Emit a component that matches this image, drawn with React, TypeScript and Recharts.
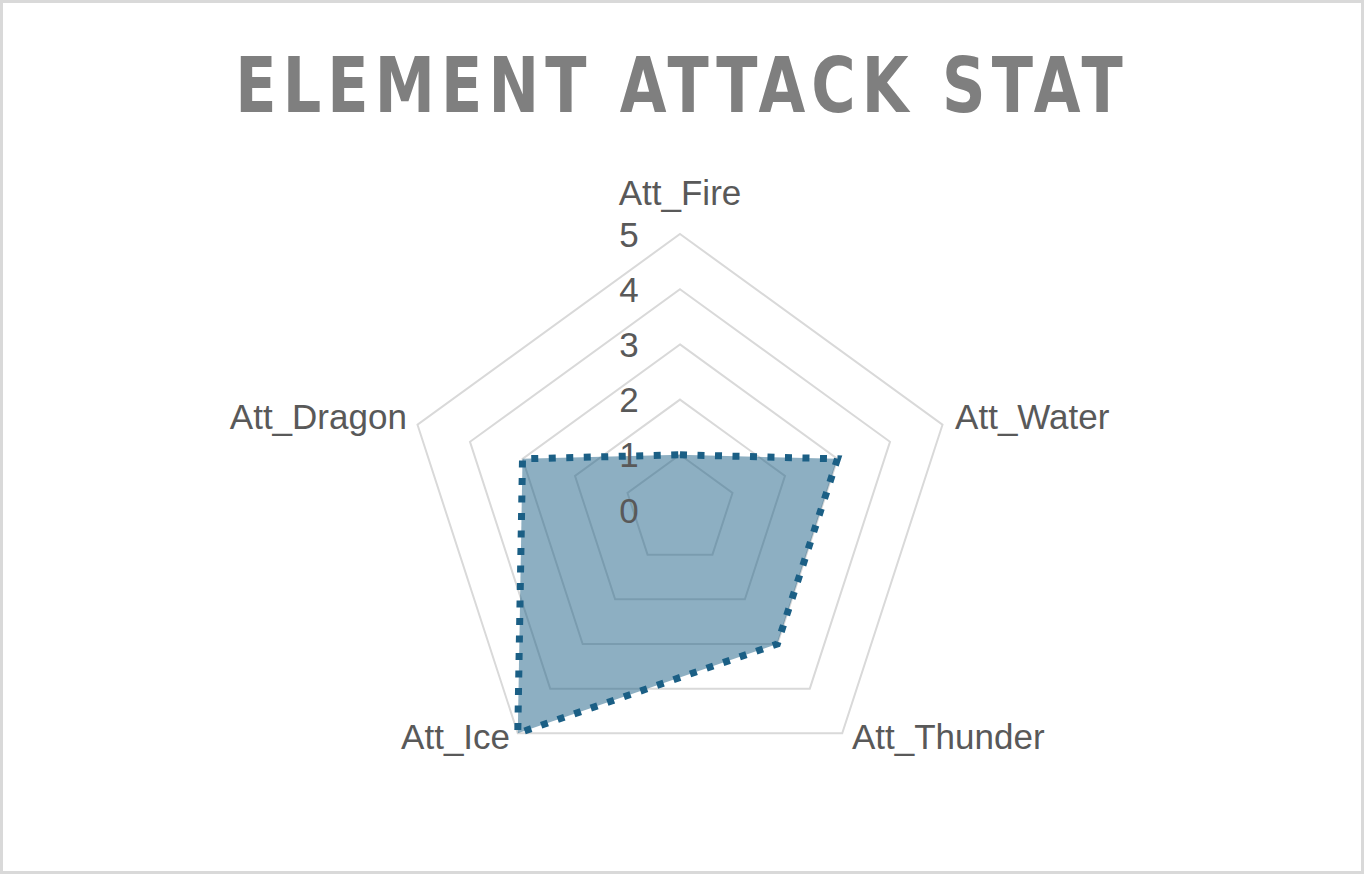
import React from 'react';
import { RadarChart, Radar, PolarGrid, PolarAngleAxis, PolarRadiusAxis } from 'recharts';

const categories = ['Att_Fire', 'Att_Water', 'Att_Thunder', 'Att_Ice', 'Att_Dragon'];
const attackValues = [1, 3, 3, 5, 3];
const radiusTicks = [0, 1, 2, 3, 4, 5];
const chartTitle = 'ELEMENT ATTACK STAT';

const data = categories.map((c, i) => ({ name: c, value: attackValues[i] }));

const LABEL_FONT = '"Liberation Sans", Arial, sans-serif';
const SERIES_COLOR = '#1b5f85';

const AngleTick = (props: any) => {
  const { x, y, payload, textAnchor } = props;
  let dx = 0;
  let dy = 0;
  if (textAnchor === 'middle') {
    dy = -21;
  } else if (textAnchor === 'start') {
    dx = 5;
    dy = y > 510 ? 9 : 7;
  } else {
    dx = -3;
    dy = y > 510 ? 9 : 7;
  }
  return (
    <text
      x={x + dx}
      y={y + dy}
      textAnchor={textAnchor}
      fill="#595959"
      fontSize={35}
      fontFamily={LABEL_FONT}
    >
      {payload.value}
    </text>
  );
};

const RadiusTick = (props: any) => {
  const { x, y, payload } = props;
  return (
    <text
      x={x - 51}
      y={y}
      textAnchor="middle"
      dominantBaseline="central"
      fill="#595959"
      fontSize={35}
      fontFamily={LABEL_FONT}
    >
      {payload.value}
    </text>
  );
};

export default function App() {
  return (
    <div
      style={{
        position: 'absolute',
        left: 0,
        top: 0,
        width: 1364,
        height: 874,
        boxSizing: 'border-box',
        border: '3px solid #d9d9d9',
        background: '#fff',
      }}
    >
      <svg
        width={1364}
        height={140}
        style={{ position: 'absolute', left: -3, top: -3 }}
      >
        <text
          x={682}
          y={112}
          textAnchor="middle"
          fill="#7f7f7f"
          fontSize={77}
          fontWeight="bold"
          letterSpacing={7}
          transform="translate(682.5 0) scale(0.873 1) translate(-682.5 0)"
          fontFamily='"Liberation Sans Narrow", "DejaVu Sans Condensed", "Liberation Sans", sans-serif'
        >
          {chartTitle}
        </text>
      </svg>
      <div style={{ position: 'absolute', left: -3, top: -3 }}>
        <RadarChart
          width={1364}
          height={874}
          data={data}
          cx={680}
          cy={510}
          outerRadius={276}
          margin={{ top: 0, right: 0, bottom: 0, left: 0 }}
        >
          <PolarGrid gridType="polygon" radialLines={false} stroke="#d9d9d9" strokeWidth={2} />
          <PolarAngleAxis dataKey="name" tick={AngleTick} tickLine={false} axisLine={false} />
          <Radar
            dataKey="value"
            stroke={SERIES_COLOR}
            strokeWidth={7}
            strokeDasharray="7 10.5"
            fill={SERIES_COLOR}
            fillOpacity={0.5}
            isAnimationActive={false}
            dot={false}
          />
          <PolarRadiusAxis
            angle={90}
            domain={[0, 5]}
            ticks={radiusTicks as any}
            tickCount={6}
            axisLine={false}
            tickLine={false}
            tick={RadiusTick}
          />
        </RadarChart>
      </div>
    </div>
  );
}
